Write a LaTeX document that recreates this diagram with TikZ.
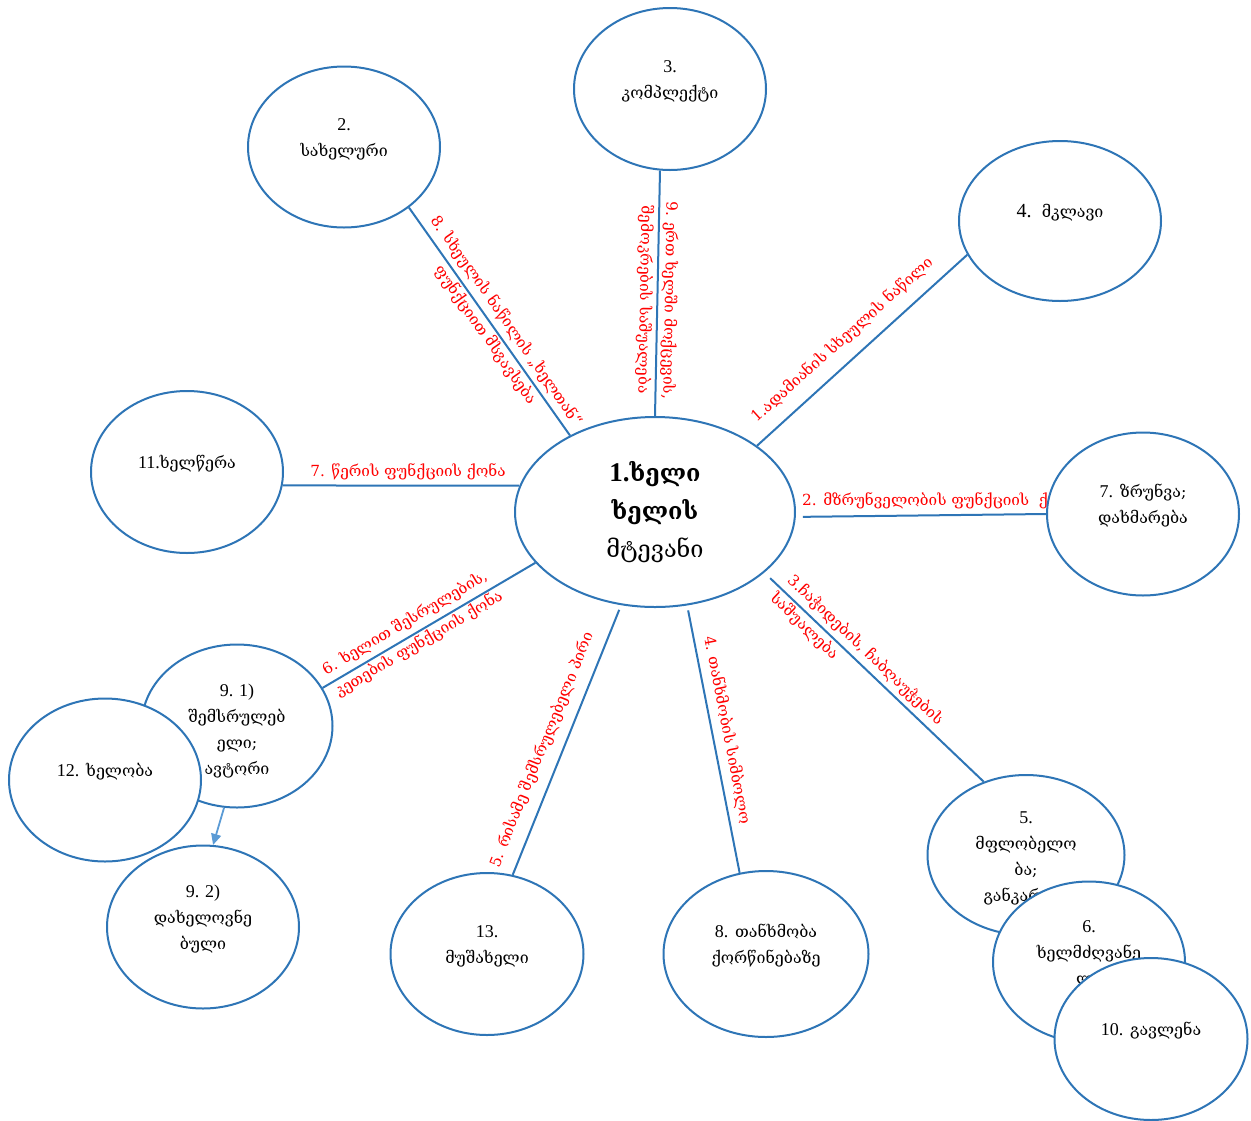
\documentclass[tikz,border=0pt]{standalone}
\usepackage{fontspec}
\setmainfont{DejaVu Serif}
\newfontfamily\tnr{Liberation Serif}
\newcommand{\nm}[1]{{\tnr\fontsize{18}{26}\selectfont #1}}
\usetikzlibrary{shapes.geometric,arrows.meta,backgrounds}
\definecolor{eblue}{RGB}{46,117,182}
\definecolor{ablue}{RGB}{91,155,213}
\begin{document}
\begin{tikzpicture}[x=1pt,y=1pt,
  ell/.style={ellipse,draw=eblue,line width=2pt,fill=white,inner sep=0pt},
  ntxt/.style={align=center,font=\fontsize{16}{26}\selectfont,text=black,inner sep=0pt,yshift=8pt},
  conn/.style={draw=eblue,line width=2pt},
  rlbl/.style={text=red,align=center,font=\fontsize{15.3}{25}\selectfont,inner sep=0pt},
]
\useasboundingbox (0,0) rectangle (1251,-1120);

% ellipses with their texts
\node[ell,minimum width=192pt,minimum height=161pt,label={[ntxt]center:\nm{2.}\\სახელური}] (n2) at (344,-147) {};
\node[ell,minimum width=192pt,minimum height=162pt,label={[ntxt]center:\nm{3.}\\კომპლექტი}] (n3) at (670,-89) {};
\node[ell,minimum width=202pt,minimum height=160pt,label={[ntxt]center:{\tnr\fontsize{20}{26}\selectfont 4.}\ \ მკლავი}] (n4) at (1060,-221) {};
\node[ell,minimum width=192pt,minimum height=163pt,label={[ntxt]center:\nm{7.} ზრუნვა;\\დახმარება}] (n7) at (1143,-514) {};
\node[ell,minimum width=192pt,minimum height=162pt,label={[ntxt]center:\nm{11.}ხელწერა}] (n11) at (187,-472) {};
\node[ell,minimum width=280pt,minimum height=190pt] (n1) at (655,-512) {};
\node[align=center,font=\fontsize{23.5}{38}\selectfont,inner sep=0pt] (t1) at (n1) {{\tnr\bfseries\fontsize{27}{38}\selectfont 1.}\textbf{ხელი}\\\textbf{ხელის}\\მტევანი};
\node[ell,minimum width=191pt,minimum height=163pt] (n91) at (237,-726) {};
\node[ell,minimum width=192pt,minimum height=163pt,label={[ntxt]center:\nm{12.} ხელობა}] (n12) at (105,-780) {};
\node[ntxt,yshift=-13pt] (t91) at (n91) {\nm{9. 1)}\\შემსრულებ\\ელი;\\ავტორი};
\node[ell,minimum width=192pt,minimum height=163pt,label={[ntxt]center:\nm{9. 2)}\\დახელოვნე\\ბული}] (n92) at (203,-927) {};
\node[ell,minimum width=193pt,minimum height=162pt,label={[ntxt]center:\nm{13.}\\მუშახელი}] (n13) at (487,-954) {};
\node[ell,minimum width=205pt,minimum height=166pt,label={[ntxt]center:\nm{8.} თანხმობა\\ქორწინებაზე}] (n8) at (766,-954) {};
\node[ell,minimum width=197pt,minimum height=160pt,label={[ntxt,yshift=-11pt]center:\nm{5.}\\მფლობელო\\ბა;\\განკარგვა}] (n5) at (1026,-855) {};
\node[ell,minimum width=192pt,minimum height=161pt,label={[ntxt]center:\nm{6.}\\ხელმძღვანე\\ლი}] (n6) at (1089,-962) {};
\node[ell,minimum width=193pt,minimum height=162pt,label={[ntxt]center:\nm{10.} გავლენა}] (n10) at (1151,-1039) {};

% arrow
\draw[-{Triangle[length=11pt,width=10pt]},draw=ablue,fill=ablue,line width=1.8pt] (n91.-99) -- (n92.83.7);

\begin{scope}[on background layer]
\draw[conn] (n2.-43.2) -- (n1.138.8);
\draw[conn] (n3.-97.7) -- (n1.90);
\draw[conn] (n1.33.8) -- (n4.-160.3);
\draw[conn] (n11.-8.3) -- (n1.169.9);
\draw[conn,shorten <=7pt] (n1.-2) -- (n7.west);
\draw[conn] (n91.24.1) -- (n1.-157.4);
\draw[conn,shorten <=5pt] (n1.-110.2) -- (n13.72.4);
\draw[conn,shorten <=5pt] (n1.-71.4) -- (n8.108.4);
\draw[conn,shorten <=8pt] (n1.-29.3) -- (n5.120.3);

\node[rlbl,rotate=-55.1] (l8) at (496,-328) {8. სხეულის ნაწილის „ხელთან“\\ფუნქციით მსგავსება};
\node[rlbl,rotate=-91] (l9) at (657,-300) {9. ერთ ხელში მოქცევის,\\შემოკრების საშუალება};
\node[rlbl,rotate=41.9] (l1) at (842,-340) {1.ადამიანის სხეულის ნაწილი};
\node[rlbl,anchor=base] (l7) at (408,-476) {7. წერის ფუნქციის ქონა};
\node[rlbl,anchor=base west] (l2) at (802,-505) {2. მზრუნველობის ფუნქციის \ ქონა};
\node[rlbl,align=left,anchor=west,rotate=-43.7] (l3) at (781,-587) {3.ჩაჭიდების, ჩაბღაუჭების\\საშუალება};
\node[rlbl,rotate=-79] (l4) at (727,-730) {4. თანხმობის სიმბოლო};
\node[rlbl,rotate=68] (l5) at (542,-750) {5. რისამე შემსრულებელი პირი};
\node[rlbl,align=left,anchor=west,rotate=30.6] (l6) at (330,-682) {6. ხელით შესრულების,\\კეთების ფუნქციის ქონა};
\end{scope}
\end{tikzpicture}
\end{document}
